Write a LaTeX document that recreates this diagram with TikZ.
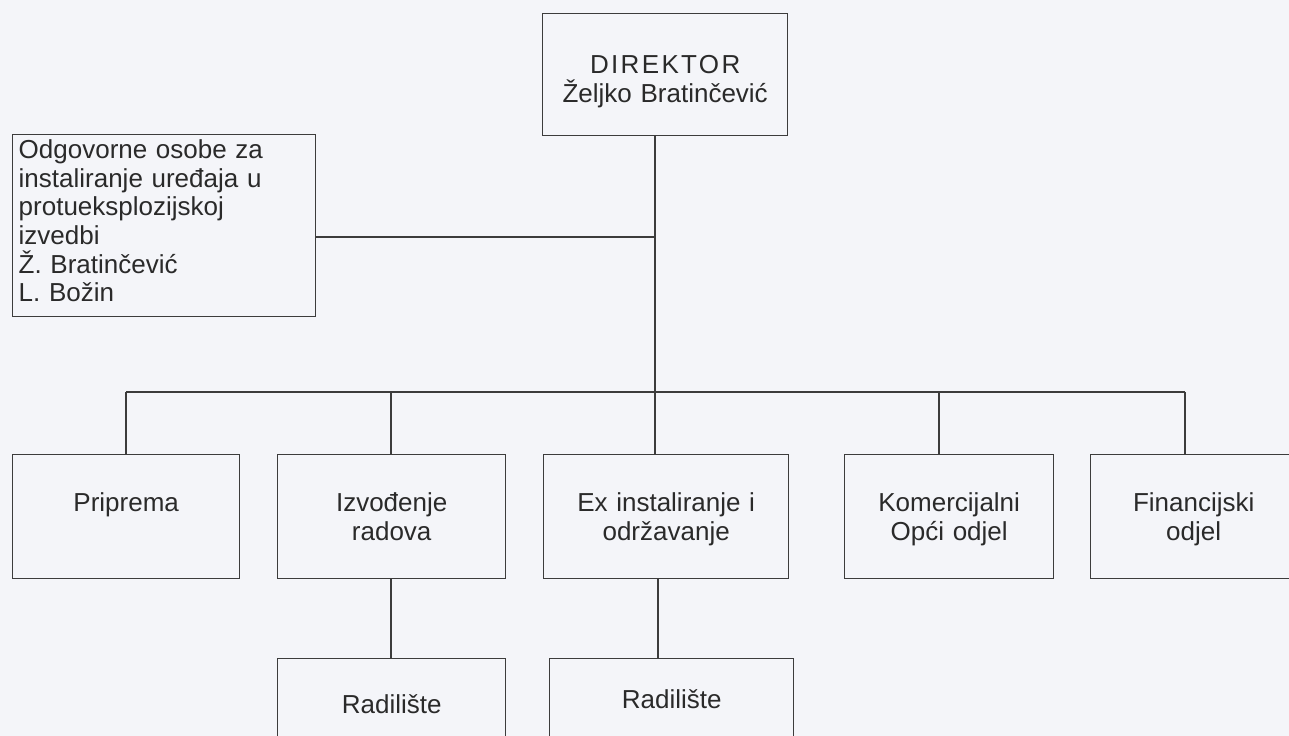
\documentclass[tikz,border=0pt]{standalone}
\usepackage{fontspec}
\setmainfont{Liberation Sans}
\usepackage{tikz}
\usetikzlibrary{positioning}
\definecolor{paper}{HTML}{F4F5F9}
\definecolor{ink}{HTML}{2A2A2A}
\definecolor{rule}{HTML}{3C3C3C}
\tikzstyle{unit} = [rectangle, draw=rule, line width=0.8pt, inner sep=0pt, anchor=north west, align=center, text=ink, text height=1.14cm, text depth=1.34cm]
\tikzstyle{link} = [draw=rule, line width=0.8pt]

\begin{document}
\begin{tikzpicture}[x=0.02cm, y=-0.02cm, font=\fontsize{14.8}{16.3}\selectfont]
        \fill[paper] (0,0) rectangle (1289,736);
        \useasboundingbox (0,0) rectangle (1289,736);
        % Nodes
        \node (dir) [unit, text width=4.9cm, text height=1.2cm, text depth=1.24cm] at (542,13) {{\addfontfeature{LetterSpace=9}DIREKTOR}\\Željko Bratinčević};
        \node (side) [unit, align=left, inner xsep=0.12cm, text width=5.82cm, text height=0.48cm, text depth=3.16cm] at (12,134) {Odgovorne osobe za\\instaliranje uređaja u\\protueksplozijskoj\\izvedbi\\Ž. Bratinčević\\L. Božin};
        \node (prip) [unit, text width=4.54cm] at (12,454) {Priprema};
        \node (izv) [unit, text width=4.56cm] at (277,454) {Izvođenje\\radova};
        \node (exin) [unit, text width=4.9cm] at (543,454) {Ex instaliranje i\\održavanje};
        \node (kom) [unit, text width=4.18cm] at (844,454) {Komercijalni\\Opći odjel};
        \node (fin) [unit, text width=4.12cm] at (1090,454) {Financijski\\odjel};
        \node (rad1) [unit, text width=4.56cm, text height=1.1cm] at (277,658) {Radilište};
        \node (rad2) [unit, text width=4.88cm, text height=1.0cm] at (549,658) {Radilište};

        % Joints
        \coordinate (trunk) at (655,392);
        \coordinate (armjoin) at (655,237);
        \coordinate (k1) at (126,392);
        \coordinate (k2) at (391,392);
        \coordinate (k4) at (939,392);
        \coordinate (k5) at (1185,392);
        \coordinate (d2) at (658,0);

        % Lines
        \draw [link] (dir.south -| trunk) -- (trunk);
        \draw [link] (side.east |- armjoin) -- (armjoin);
        \draw [link] (k1) -- (k5);
        \draw [link] (k1) -- (k1 |- prip.north);
        \draw [link] (k2) -- (k2 |- izv.north);
        \draw [link] (trunk) -- (trunk |- exin.north);
        \draw [link] (k4) -- (k4 |- kom.north);
        \draw [link] (k5) -- (k5 |- fin.north);
        \draw [link] (izv.south -| k2) -- (rad1.north -| k2);
        \draw [link] (exin.south -| d2) -- (rad2.north -| d2);
\end{tikzpicture}
\end{document}
